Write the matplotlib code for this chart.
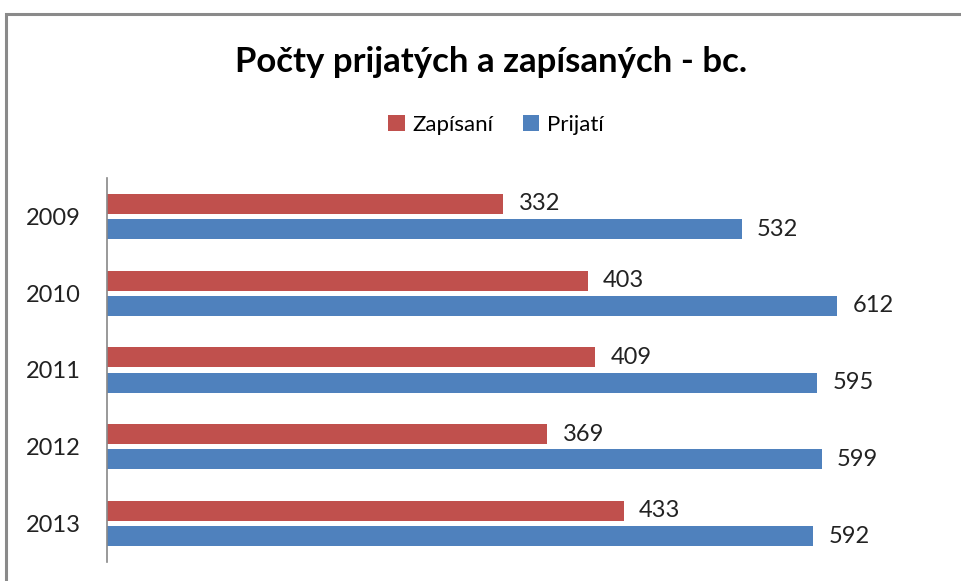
import matplotlib.pyplot as plt
import numpy as np
from matplotlib.patches import Rectangle

plt.rcParams['font.family'] = ['Lato', 'DejaVu Sans']

# data
years = ['2009', '2010', '2011', '2012', '2013']
zapisani = [332, 403, 409, 369, 433]
prijati = [532, 612, 595, 599, 592]

red = '#C0504D'
blue = '#4F81BD'

fig = plt.figure(figsize=(9.62, 5.81), dpi=100)
ax = fig.add_axes([107 / 962, 19 / 581, 835 / 962, 384 / 581])

# gray chart border (right/bottom edges are cut off in the original)
fig.patches.append(Rectangle((6 / 962, -0.1), 1.2, 1 - 14 / 581 + 0.1,
                             transform=fig.transFigure, fill=False,
                             edgecolor='#8a8a8a', linewidth=2.2))

y = np.arange(len(years))
h = 0.26
off = 0.165
b1 = ax.barh(y - off, zapisani, height=h, color=red, label='Zapísaní')
b2 = ax.barh(y + off, prijati, height=h, color=blue, label='Prijatí')

for bars, vals in ((b1, zapisani), (b2, prijati)):
    for bar, v in zip(bars, vals):
        ax.text(v + 13, bar.get_y() + bar.get_height() / 2, str(v),
                va='center', ha='left', fontsize=17, color='#222222')

ax.set_xlim(0, 700)
ax.set_ylim(4.5, -0.5)
ax.set_yticks(y)
ax.set_yticklabels(years, fontsize=17, color='#222222')
ax.tick_params(axis='y', length=0, pad=19)
ax.set_xticks([])
for s in ['top', 'right', 'bottom']:
    ax.spines[s].set_visible(False)
ax.spines['left'].set_color('#888888')
ax.spines['left'].set_linewidth(1.2)

fig.text(491 / 962, 1 - 62 / 581, 'Počty prijatých a zapísaných - bc.',
         ha='center', va='center', fontsize=25, fontweight='bold')

fig.legend(handles=[b1, b2], loc='center', bbox_to_anchor=(496 / 962, 1 - 125 / 581),
           ncol=2, frameon=False, fontsize=16, handlelength=0.75, handleheight=0.75,
           handletextpad=0.35, columnspacing=1.3)

fig.savefig('out.png', dpi=100)
